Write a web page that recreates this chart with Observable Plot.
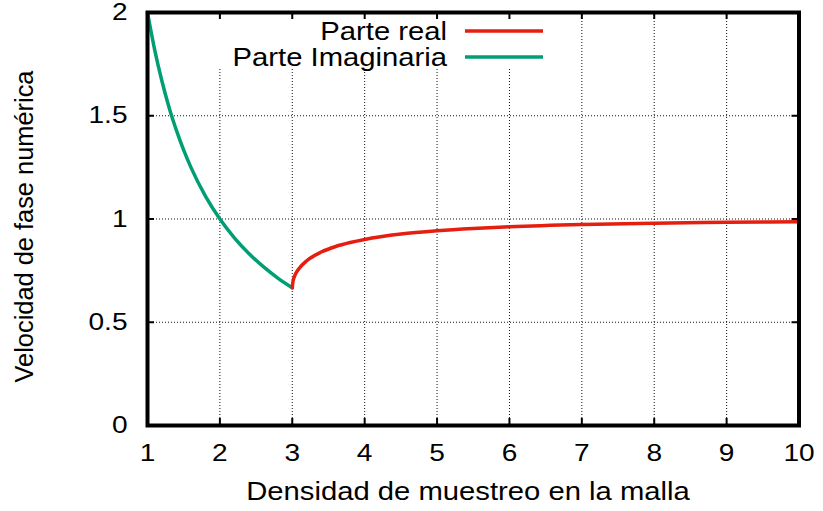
<!DOCTYPE html>
<html>
<head>
<meta charset="utf-8">
<script src="https://cdn.jsdelivr.net/npm/d3@7"></script>
<script src="https://cdn.jsdelivr.net/npm/@observablehq/plot@0.6"></script>
<style>
  body { margin: 0; background: #fff; }
  svg { display: block; }
</style>
</head>
<body>
<div id="chart"></div>
<script>
// Densidad de muestreo (puntos por longitud de onda) y velocidad de fase numérica
const imagN = [1, 1.1, 1.2, 1.3, 1.4, 1.5, 1.6, 1.8, 2, 2.2, 2.4, 2.6, 2.8, 3];
const imagV = [2, 1.818, 1.667, 1.538, 1.429, 1.333, 1.25, 1.111, 1, 0.909, 0.833, 0.769, 0.714, 0.667];

const realN = [3, 3.01, 3.02, 3.05, 3.1, 3.2, 3.4, 3.6, 3.8, 4, 4.5, 5, 5.5, 6, 7, 8, 9, 10];
const realV = [0.667, 0.699, 0.712, 0.737, 0.763, 0.798, 0.840, 0.867, 0.886, 0.901, 0.927, 0.943, 0.954, 0.962, 0.973, 0.980, 0.984, 0.987];

const xTicks = [1, 2, 3, 4, 5, 6, 7, 8, 9, 10];
const yTicks = [0, 0.5, 1, 1.5, 2];
const xGrid = [2, 3, 4, 5, 6, 7, 8, 9];
const yGrid = [0.5, 1, 1.5];

const seriesNames = ["Parte real", "Parte Imaginaria"];
const seriesColors = ["#e51e10", "#009e73"];

const xLabel = "Densidad de muestreo en la malla";
const yLabel = "Velocidad de fase numérica";

// Layout
const W = 823, H = 511;
const mt = 12, mb = 86, ml = 147, mr = 24.5;
const innerW = W - ml - mr, innerH = H - mt - mb;
const FONT = "'Liberation Sans', Arial, Helvetica, sans-serif";
const STRETCH = 1.17; // wide horizontal lettering

const real = realN.map((n, i) => ({n, v: realV[i]}));
const imag = imagN.map((n, i) => ({n, v: imagV[i]}));

const gridStyle = {stroke: "#111", strokeWidth: 1, strokeDasharray: "1,2"};
const tickLen = 7;

const chart = Plot.plot({
  width: W, height: H,
  marginTop: mt, marginBottom: mb, marginLeft: ml, marginRight: mr,
  x: {domain: [1, 10]},
  y: {domain: [0, 2]},
  style: {fontFamily: FONT, fontSize: "24px", background: "#fff", color: "#000"},
  marks: [
    Plot.ruleX(xGrid, {x: d => d, ...gridStyle}),
    Plot.ruleY(yGrid, {y: d => d, ...gridStyle}),
    Plot.line(imag, {x: "n", y: "v", stroke: seriesColors[1], strokeWidth: 3.5, curve: "monotone-x"}),
    Plot.line(real, {x: "n", y: "v", stroke: seriesColors[0], strokeWidth: 3.5, curve: "monotone-x"}),
    // inward tick marks on all four sides
    Plot.tickX(xGrid, {x: d => d, insetTop: innerH - tickLen, stroke: "#000", strokeWidth: 2}),
    Plot.tickX(xGrid, {x: d => d, insetBottom: innerH - tickLen, stroke: "#000", strokeWidth: 2}),
    Plot.tickY(yGrid, {y: d => d, insetRight: innerW - tickLen, stroke: "#000", strokeWidth: 2}),
    Plot.tickY(yGrid, {y: d => d, insetLeft: innerW - tickLen, stroke: "#000", strokeWidth: 2}),
    Plot.frame({stroke: "#000", strokeWidth: 4}),
    Plot.axisX(xTicks, {tickSize: 0, tickPadding: 18, label: null, fontSize: 24, tickFormat: d => String(d)}),
    Plot.axisY(yTicks, {tickSize: 0, tickPadding: 20, label: null, fontSize: 24, tickFormat: d => String(d)})
  ]
});

const svg = d3.select(chart);

// Key box (opaque, hides the grid behind it)
const key = svg.append("g");
key.append("rect")
  .attr("x", 200).attr("y", 19).attr("width", 356).attr("height", 50)
  .attr("fill", "#fff");
seriesNames.forEach((name, i) => {
  const cy = 31 + 26 * i;
  key.append("text")
    .attr("transform", `translate(447,${cy + 8.5})`)
    .attr("text-anchor", "end")
    .attr("font-family", FONT).attr("font-size", 25).attr("fill", "#000")
    .text(name);
  key.append("line")
    .attr("x1", 465).attr("x2", 543).attr("y1", cy).attr("y2", cy)
    .attr("stroke", seriesColors[i]).attr("stroke-width", 3.5);
});

// Axis titles
svg.append("text")
  .attr("transform", "translate(468,499.5)")
  .attr("text-anchor", "middle")
  .attr("font-family", FONT).attr("font-size", 25).attr("fill", "#000")
  .text(xLabel);
svg.append("text")
  .attr("transform", "translate(33,226.5) rotate(-90)")
  .attr("text-anchor", "middle")
  .attr("font-family", FONT).attr("font-size", 25.4).attr("fill", "#000")
  .text(yLabel);

// Widen horizontal lettering about each label's anchor point
svg.selectAll("text").each(function() {
  const t = this.getAttribute("transform") || "";
  if (!/rotate/.test(t) && /translate/.test(t)) {
    this.setAttribute("transform", `${t} scale(${STRETCH},1)`);
  }
});

document.getElementById("chart").appendChild(chart);
</script>
</body>
</html>
